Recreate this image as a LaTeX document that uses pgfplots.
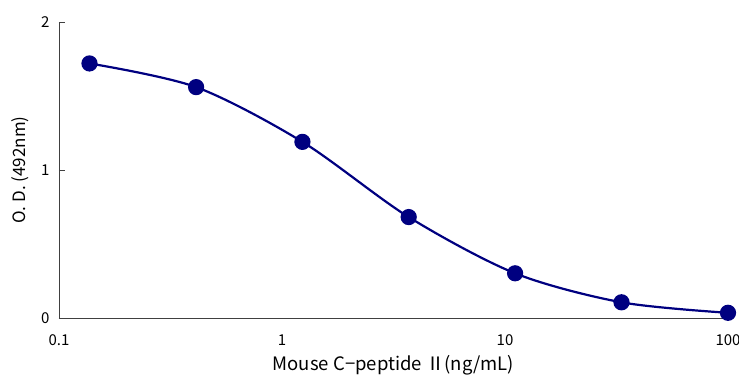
\documentclass[border=0pt]{standalone}
\usepackage{fontspec}
\setmainfont{Noto Sans CJK JP}
\usepackage{pgfplots}
\pgfplotsset{compat=1.18}
\definecolor{navy}{RGB}{0,0,128}
\begin{document}
\begin{tikzpicture}[x=1pt,y=1pt]
\begin{axis}[
  name=ax,
  scale only axis,
  width=669pt, height=296pt,
  xmode=log,
  xmin=0.1, xmax=100,
  ymin=0, ymax=2,
  axis x line*=bottom, axis y line*=left,
  axis line style={-, black!75},
  xtick={0.1,1,10,100},
  xticklabels={0.1,1,10,100},
  minor xtick={},
  xtick style={draw=none},
  ytick={0,1,2},
  yticklabels={0,1,2},
  ytick style={black!75, line width=0.8pt},
  tick align=inside,
  major tick length=6pt,
  tick label style={font=\fontsize{15}{17}\selectfont},
  xticklabel style={anchor=center, yshift=-22pt},
  yticklabel style={anchor=east, xshift=-6pt},
  xlabel={Mouse C−peptide Ⅱ(ng/mL)},
  ylabel={O. D. (492nm)},
  label style={font=\fontsize{17}{20}\selectfont},
  xlabel style={at={(axis description cs:0.5,-0.1588)}, anchor=center, font=\fontsize{18.5}{21}\selectfont},
  ylabel style={at={(axis description cs:-0.0583,0.5)}, anchor=center},
  clip=false,
]
\addplot[navy, line width=2.2pt, smooth, tension=0.5, mark=*, mark size=7pt, mark options={fill=navy, draw=navy}]
coordinates {
(0.137,1.72)
(0.412,1.56)
(1.235,1.19)
(3.70,0.682)
(11.1,0.302)
(33.3,0.106)
(100,0.035)
};
\end{axis}
\pgfresetboundingbox
\path ([shift={(-59pt,-58pt)}]ax.south west) rectangle ([shift={(11pt,22pt)}]ax.north east);
\end{tikzpicture}
\end{document}
